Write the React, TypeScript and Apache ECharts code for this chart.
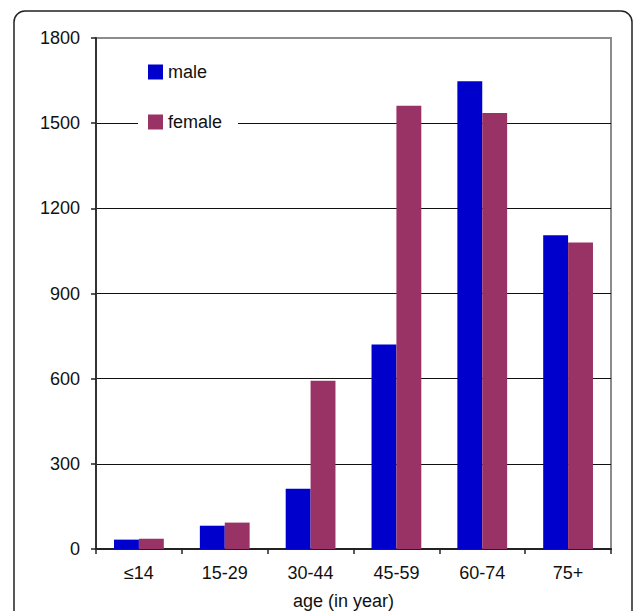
import React, { useEffect, useRef } from "react";
import * as echarts from "echarts";

const categories = ["≤14", "15-29", "30-44", "45-59", "60-74", "75+"];
const maleValues = [33, 82, 212, 720, 1648, 1105];
const femaleValues = [36, 93, 593, 1561, 1536, 1080];
const yTicks = [0, 300, 600, 900, 1200, 1500, 1800];

const FONT = "'Liberation Sans', Arial, Helvetica, sans-serif";

export default function App() {
  const ref = useRef<HTMLDivElement>(null);
  useEffect(() => {
    if (!ref.current) return;
    const chart = echarts.init(ref.current, undefined, { renderer: "svg" });
    const splitColors = yTicks.map((v) => (v === yTicks[yTicks.length - 1] ? "#8c8c8c" : "#111"));
    chart.setOption({
      animation: false,
      backgroundColor: "#fff",
      textStyle: { fontFamily: FONT },
      graphic: [
        {
          type: "rect",
          shape: { x: 14, y: 11, width: 618, height: 700, r: 11 },
          style: { fill: "none", stroke: "#222", lineWidth: 1.5 },
          silent: true,
          z: 0,
        },
      ],
      grid: {
        left: 96,
        top: 38,
        right: 22,
        bottom: 62,
        show: true,
        backgroundColor: "#fff",
        borderColor: "#8c8c8c",
        borderWidth: 2,
        outerBoundsMode: "none",
        containLabel: false,
      },
      legend: {
        orient: "vertical",
        left: 138,
        top: 53,
        padding: [10, 16, 10, 10],
        backgroundColor: "#fff",
        itemWidth: 15,
        itemHeight: 15,
        itemGap: 32,
        icon: "rect",
        textStyle: { fontSize: 18, color: "#111", fontFamily: FONT, lineHeight: 15 },
        data: ["male", "female"],
        z: 10,
      },
      xAxis: {
        type: "category",
        data: categories,
        name: "age (in year)",
        nameLocation: "middle",
        nameGap: 43,
        nameTextStyle: { fontSize: 18, color: "#111", fontFamily: FONT, padding: [0, 20, 0, 0] },
        axisLine: { show: true, lineStyle: { color: "#222", width: 2 } },
        axisTick: { show: true, length: 5, alignWithLabel: false, lineStyle: { color: "#222", width: 1.5 } },
        axisLabel: { fontSize: 18, color: "#111", margin: 15, fontFamily: FONT },
        splitLine: { show: false },
      },
      yAxis: {
        type: "value",
        min: 0,
        max: 1800,
        interval: 300,
        axisLine: { show: true, lineStyle: { color: "#333", width: 2 } },
        axisTick: { show: true, length: 5, lineStyle: { color: "#222", width: 1.5 } },
        axisLabel: {
          fontSize: 18,
          color: "#111",
          margin: 16,
          fontFamily: FONT,
          formatter: (v: number) => String(v),
        },
        splitLine: { show: true, lineStyle: { color: splitColors, width: 1.2 } },
      },
      series: [
        {
          name: "male",
          type: "bar",
          data: maleValues,
          barGap: "0%",
          barCategoryGap: "42%",
          itemStyle: { color: "#0000CC" },
        },
        {
          name: "female",
          type: "bar",
          data: femaleValues,
          barGap: "0%",
          barCategoryGap: "42%",
          itemStyle: { color: "#993366" },
        },
      ],
    });
    return () => chart.dispose();
  }, []);
  return (
    <div
      ref={ref}
      style={{ position: "fixed", left: 0, top: 0, width: 633, height: 611 }}
    />
  );
}
